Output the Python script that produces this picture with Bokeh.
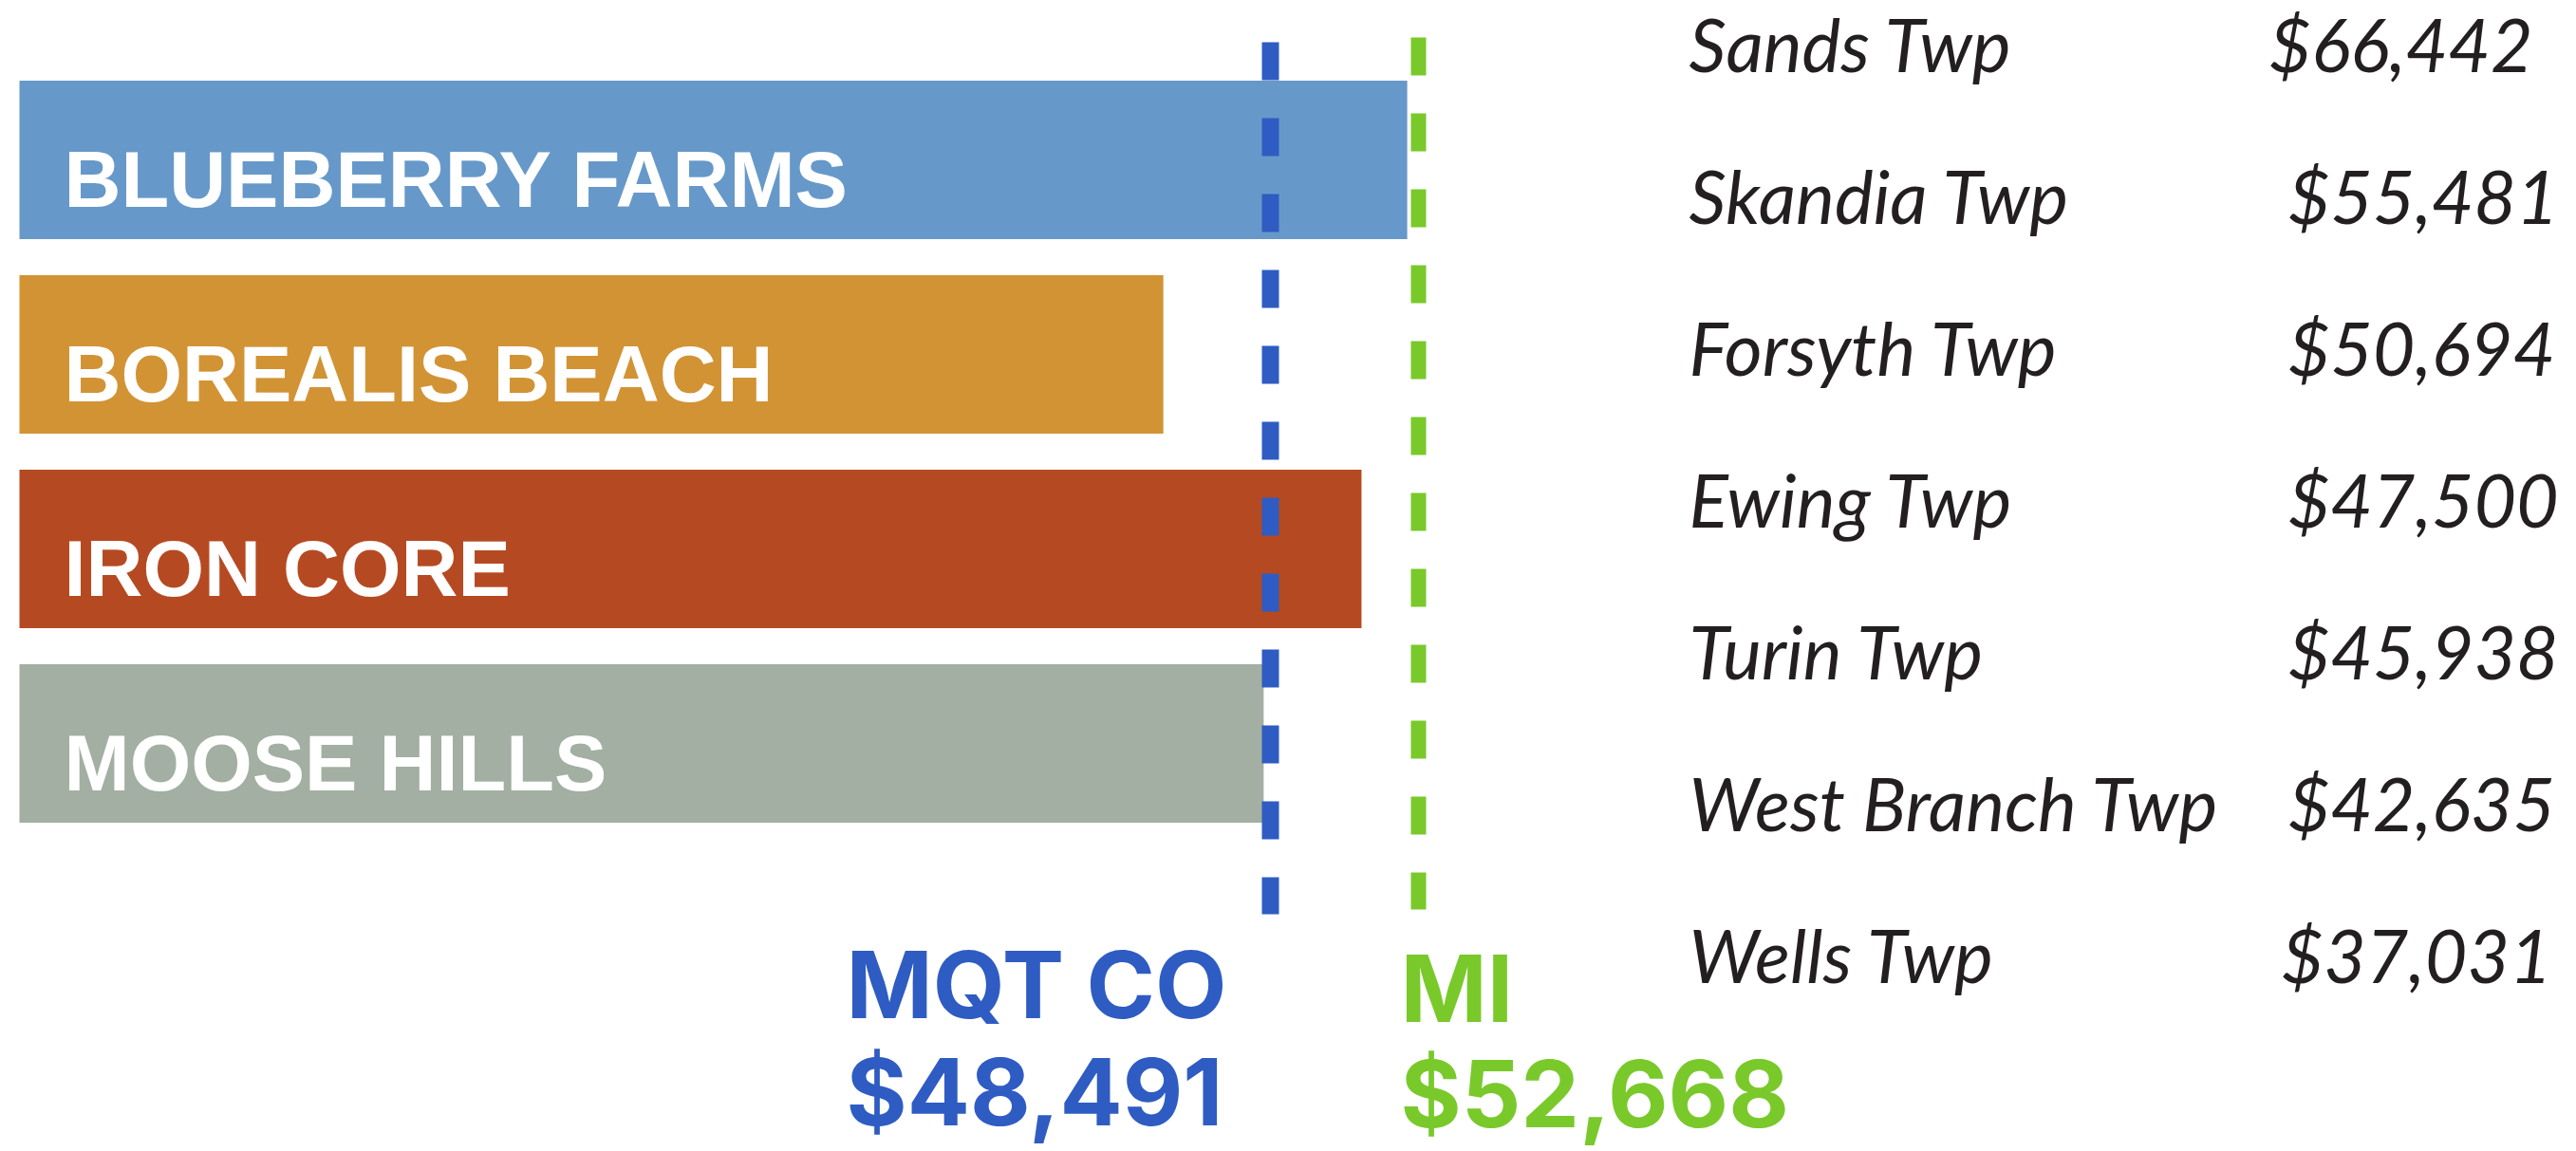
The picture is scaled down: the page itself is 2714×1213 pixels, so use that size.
from bokeh.plotting import figure
from bokeh.models import Range1d
from bokeh.embed import file_html
from bokeh.resources import INLINE
from bokeh.core.properties import value

# ---------------- data ----------------
regions = ["BLUEBERRY FARMS", "BOREALIS BEACH", "IRON CORE", "MOOSE HILLS"]
region_income = [52350, 45470, 51060, 48300]
region_colors = ["#6699c9", "#d29335", "#b54a22", "#a2afa2"]

county_label = "MQT CO"
county_income = 48491
state_label = "MI"
state_income = 52668

townships = ["Sands Twp", "Skandia Twp", "Forsyth Twp", "Ewing Twp",
             "Turin Twp", "West Branch Twp", "Wells Twp"]
township_income = [66442, 55481, 50694, 47500, 45938, 42635, 37031]

# ---------------- layout ----------------
W, H = 2714, 1213
BLUE_PX, GREEN_PX = 1338, 1494
K = (GREEN_PX - BLUE_PX) / (state_income - county_income)   # px per dollar
X0 = county_income - BLUE_PX / K
X1 = X0 + W / K
ROW0, ROWSTEP = 168, 205
BASE_SHIFT = 0.38   # em offset of the renderer's text anchor above the baseline
VALUE_COL_PX = [2390, 2410, 2410, 2410, 2410, 2410, 2403]


def fx(px):
    return X0 + px / K


def fy(py):
    return (py - ROW0) / ROWSTEP


def fyb(baseline_px, fs):
    return fy(baseline_px - BASE_SHIFT * fs)


p = figure(width=W, height=H, output_backend="svg", toolbar_location=None,
           x_range=Range1d(X0, X1), y_range=Range1d(fy(H), fy(0)),
           min_border=0, outline_line_color=None,
           background_fill_color="white", border_fill_color="white")
p.axis.visible = False
p.grid.visible = False

rows = list(range(len(regions)))
p.hbar(y=rows, left=fx(20), right=region_income, height=167 / ROWSTEP,
       fill_color=region_colors, line_color=None)

FS_BAR = 83
p.text(x=[fx(67)] * len(regions),
       y=[fyb(ROW0 + ROWSTEP * r + 53, FS_BAR) for r in rows], text=regions,
       text_color="white", text_font=value("Liberation Sans"), text_font_style="bold",
       text_font_size=f"{FS_BAR}px", text_baseline="alphabetic", text_align="left")

BLUE = "#2f5cc2"
GREEN = "#79c92b"
p.segment(x0=[county_income], y0=[fy(44)], x1=[county_income], y1=[fy(963)],
          line_color=BLUE, line_width=18, line_dash="40 40", line_cap="butt")
p.segment(x0=[state_income], y0=[fy(39)], x1=[state_income], y1=[fy(958)],
          line_color=GREEN, line_width=16, line_dash="40 40", line_cap="butt")

FS_REF = 98
p.text(x=[fx(891), fx(891)], y=[fyb(1074, FS_REF), fyb(1187, FS_REF)],
       text=[county_label, f"${county_income:,}"],
       text_color=BLUE, text_font=value("Inter"), text_font_style="bold",
       text_font_size=f"{FS_REF}px", text_baseline="alphabetic")
p.text(x=[fx(1475), fx(1475)], y=[fyb(1078, FS_REF), fyb(1189, FS_REF)],
       text=[state_label, f"${state_income:,}"],
       text_color=GREEN, text_font=value("Inter"), text_font_style="bold",
       text_font_size=f"{FS_REF}px", text_baseline="alphabetic")

FS_TAB = 77
ty = [fyb(75 + 160 * j, FS_TAB) for j in range(len(townships))]
p.text(x=[fx(1779)] * len(townships), y=ty, text=townships,
       text_color="#231f20", text_font=value("Lato"), text_font_style="italic",
       text_font_size=f"{FS_TAB}px", text_baseline="alphabetic")
p.text(x=[fx(px) for px in VALUE_COL_PX], y=ty,
       text=[f"${v:,}" for v in township_income],
       text_color="#231f20", text_font=value("Lato"), text_font_style="italic",
       text_font_size=f"{FS_TAB}px", text_baseline="alphabetic")

open("out.html", "w").write(file_html(p, INLINE))
